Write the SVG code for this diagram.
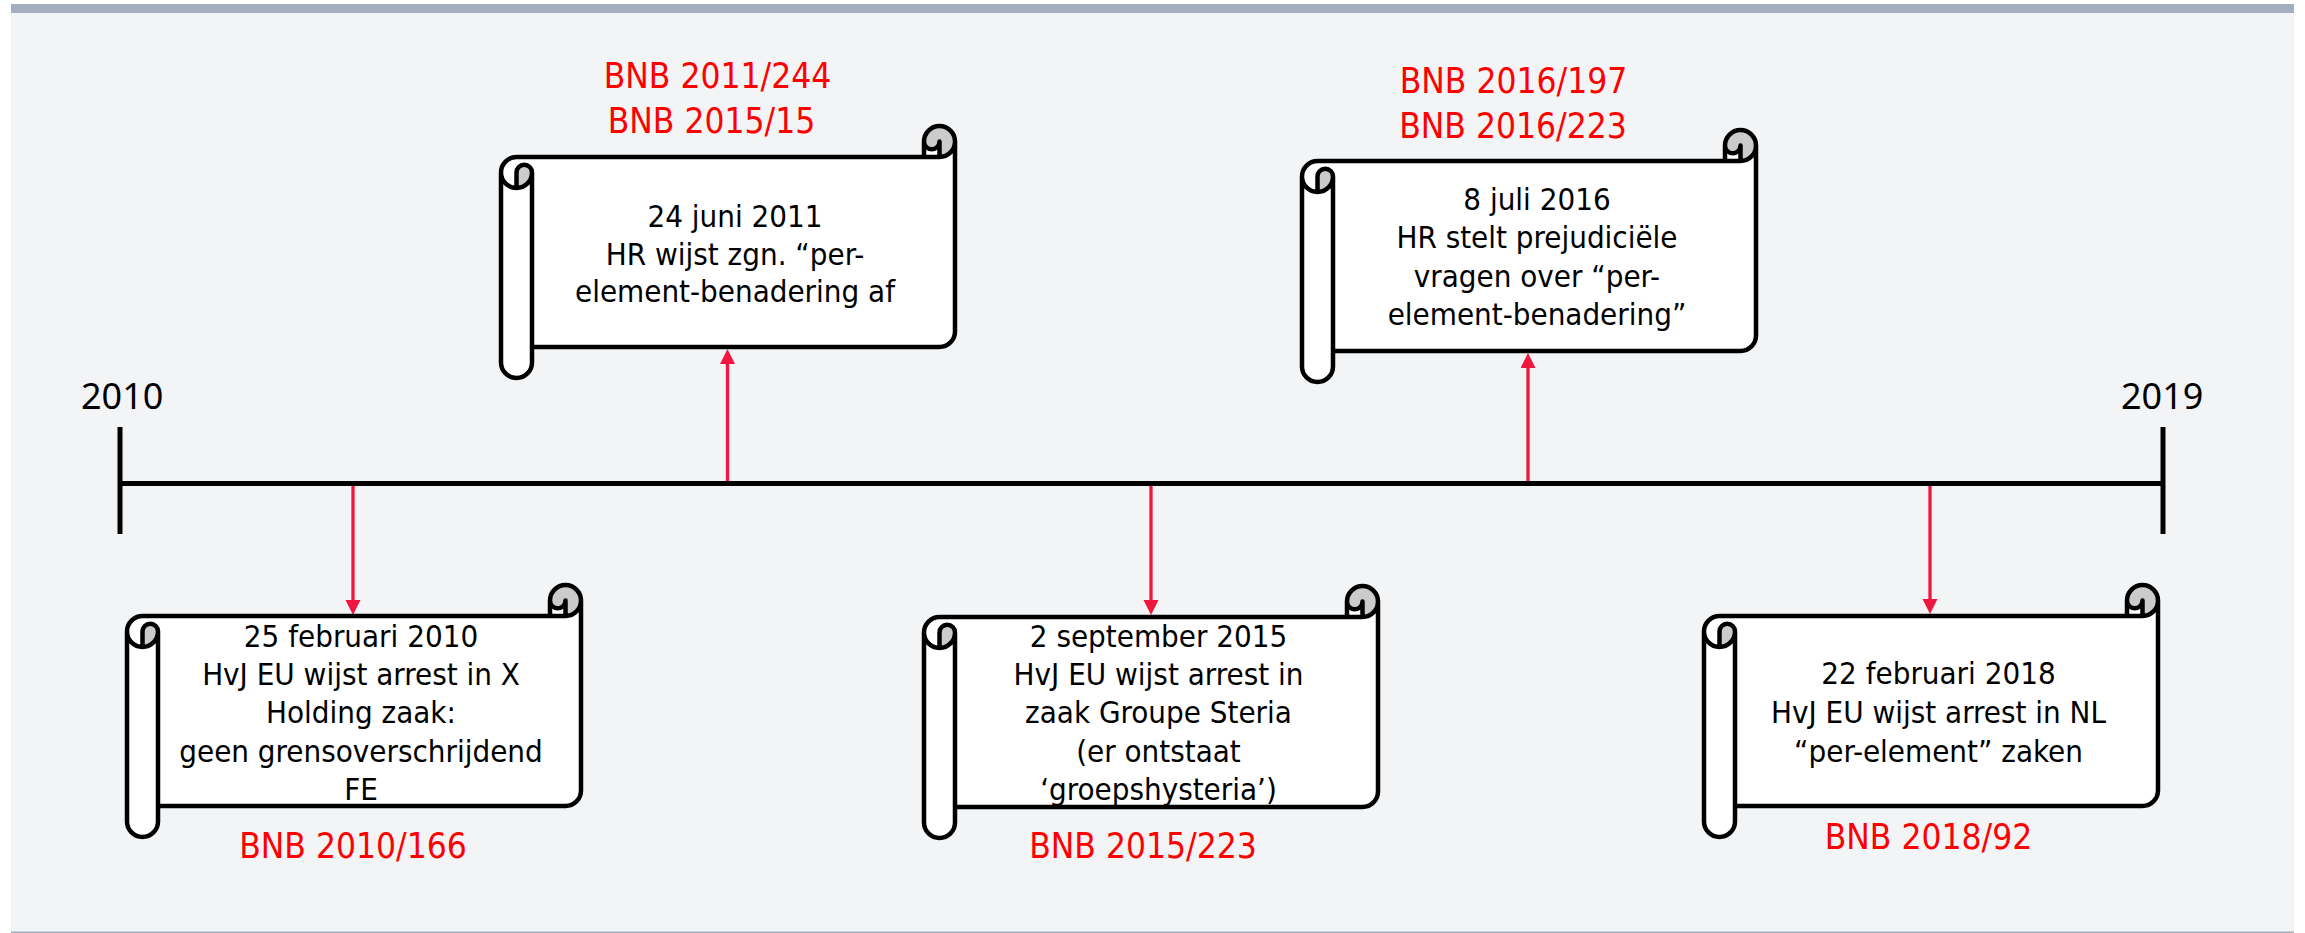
<svg xmlns="http://www.w3.org/2000/svg" xmlns:xlink="http://www.w3.org/1999/xlink" width="2305" height="933" viewBox="0 0 2305 933">
  <style>
    .panel { fill: #f3f4f6; }
    .band { fill: #a3aebe; }
    .axis { stroke: #000; stroke-width: 5; fill: none; }
    .year { font-family: "Noto Sans", "Open Sans", sans-serif; font-size: 36px; fill: #000; }
    .body { font-family: "DejaVu Sans Condensed", "DejaVu Sans", sans-serif; font-stretch: condensed; font-size: 31px; fill: #000; text-anchor: middle; }
    .ref { font-family: "DejaVu Sans Condensed", "DejaVu Sans", sans-serif; font-stretch: condensed; font-size: 35px; fill: #ff0000; text-anchor: middle; }
    .link { stroke: #f0173f; stroke-width: 3.3; fill: none; }
    .paper { fill: #ffffff; }
    .curl { fill: #cbcbcb; }
    .edge { fill: none; stroke: #000; stroke-width: 4.5; stroke-linejoin: round; stroke-linecap: round; }
  </style>
  <defs>
    <marker id="tip" markerUnits="userSpaceOnUse" markerWidth="16" markerHeight="16" refX="1" refY="7.5" orient="auto">
      <path d="M0,0 L15,7.5 L0,15 Z" fill="#f0173f"/>
    </marker>
    <!-- horizontal scroll, 454 x 252, roll size 31 -->
    <g id="scroll-bg">
      <path class="paper" d="M454 15.5 A15.5 15.5 0 0 1 438.5 31 L438.5 15.5 A7.75 7.75 0 0 1 423 15.5 L423 31 L15.5 31 A15.5 15.5 0 0 0 0 46.5 L0 236.5 A15.5 15.5 0 0 0 31 236.5 L31 221 L438.5 221 A15.5 15.5 0 0 0 454 205.5 Z"/>
      <path class="curl" d="M15.5 62 A15.5 15.5 0 0 0 31 46.5 A7.75 7.75 0 0 0 15.5 46.5 Z M438.5 31 A15.5 15.5 0 1 0 423 15.5 A7.75 7.75 0 0 0 438.5 15.5 Z"/>
    </g>
    <path id="scroll-line" class="edge" d="M0 46.5 A15.5 15.5 0 0 1 15.5 31 L423 31 L423 15.5 A15.5 15.5 0 0 1 454 15.5 L454 205.5 A15.5 15.5 0 0 1 438.5 221 L31 221 L31 236.5 A15.5 15.5 0 0 1 0 236.5 Z M423 31 L438.5 31 A15.5 15.5 0 0 0 454 15.5 M438.5 31 L438.5 15.5 A7.75 7.75 0 0 1 423 15.5 M15.5 62 L15.5 46.5 A7.75 7.75 0 0 1 31 46.5 A15.5 15.5 0 0 1 0 46.5 M31 46.5 L31 221"/>
  </defs>

  <!-- slide panel -->
  <rect x="0" y="0" width="2305" height="933" fill="#ffffff"/>
  <rect class="panel" x="11" y="4" width="2283" height="929"/>
  <rect class="band" x="11" y="4" width="2283" height="9"/>
  <rect class="band" x="11" y="931.5" width="2283" height="1.5"/>

  <!-- time axis -->
  <g id="timeline">
    <line class="axis" x1="120" y1="427" x2="120" y2="534"/>
    <line class="axis" x1="2163" y1="427" x2="2163" y2="534"/>
    <line class="axis" x1="120" y1="483.5" x2="2163" y2="483.5"/>
    <text class="year" x="81" y="409">2010</text>
    <text class="year" x="2121" y="409">2019</text>
  </g>

  <g id="connectors">
    <line class="link" x1="353" y1="486" x2="353" y2="601" marker-end="url(#tip)"/>
    <line class="link" x1="727.5" y1="481" x2="727.5" y2="363" marker-end="url(#tip)"/>
    <line class="link" x1="1151" y1="486" x2="1151" y2="601" marker-end="url(#tip)"/>
    <line class="link" x1="1528" y1="481" x2="1528" y2="367" marker-end="url(#tip)"/>
    <line class="link" x1="1930" y1="486" x2="1930" y2="600" marker-end="url(#tip)"/>
  </g>

  <g id="node-2011">
    <use xlink:href="#scroll-bg" transform="translate(501,126)"/>
    <text class="ref" x="717.5" y="88">BNB 2011/244</text>
    <text class="ref" x="711.5" y="133">BNB 2015/15</text>
    <text class="body" x="735" y="227">24 juni 2011</text>
    <text class="body" x="735" y="264.5">HR wijst zgn. “per-</text>
    <text class="body" x="735" y="302">element-benadering af</text>
    <use xlink:href="#scroll-line" transform="translate(501,126)"/>
  </g>

  <g id="node-2016">
    <use xlink:href="#scroll-bg" transform="translate(1302,130)"/>
    <text class="ref" x="1513.5" y="93">BNB 2016/197</text>
    <text class="ref" x="1513" y="138">BNB 2016/223</text>
    <text class="body" x="1537" y="210">8 juli 2016</text>
    <text class="body" x="1537" y="248.3">HR stelt prejudiciële</text>
    <text class="body" x="1537" y="286.7">vragen over “per-</text>
    <text class="body" x="1537" y="325">element-benadering”</text>
    <use xlink:href="#scroll-line" transform="translate(1302,130)"/>
  </g>

  <g id="node-2010">
    <use xlink:href="#scroll-bg" transform="translate(127,585)"/>
    <text class="body" x="361" y="646.7">25 februari 2010</text>
    <text class="body" x="361" y="685">HvJ EU wijst arrest in X</text>
    <text class="body" x="361" y="723.3">Holding zaak:</text>
    <text class="body" x="361" y="761.7">geen grensoverschrijdend</text>
    <text class="body" x="361" y="800">FE</text>
    <use xlink:href="#scroll-line" transform="translate(127,585)"/>
    <text class="ref" x="353" y="858">BNB 2010/166</text>
  </g>

  <g id="node-2015">
    <use xlink:href="#scroll-bg" transform="translate(924,586)"/>
    <text class="body" x="1158.5" y="646.7">2 september 2015</text>
    <text class="body" x="1158.5" y="685">HvJ EU wijst arrest in</text>
    <text class="body" x="1158.5" y="723.3">zaak Groupe Steria</text>
    <text class="body" x="1158.5" y="762">(er ontstaat</text>
    <text class="body" x="1158.5" y="800">‘groepshysteria’)</text>
    <use xlink:href="#scroll-line" transform="translate(924,586)"/>
    <text class="ref" x="1143" y="858">BNB 2015/223</text>
  </g>

  <g id="node-2018">
    <use xlink:href="#scroll-bg" transform="translate(1704,585)"/>
    <text class="body" x="1938.5" y="684.3">22 februari 2018</text>
    <text class="body" x="1938.5" y="722.7">HvJ EU wijst arrest in NL</text>
    <text class="body" x="1938.5" y="761.7">“per-element” zaken</text>
    <use xlink:href="#scroll-line" transform="translate(1704,585)"/>
    <text class="ref" x="1928.5" y="849">BNB 2018/92</text>
  </g>
</svg>
